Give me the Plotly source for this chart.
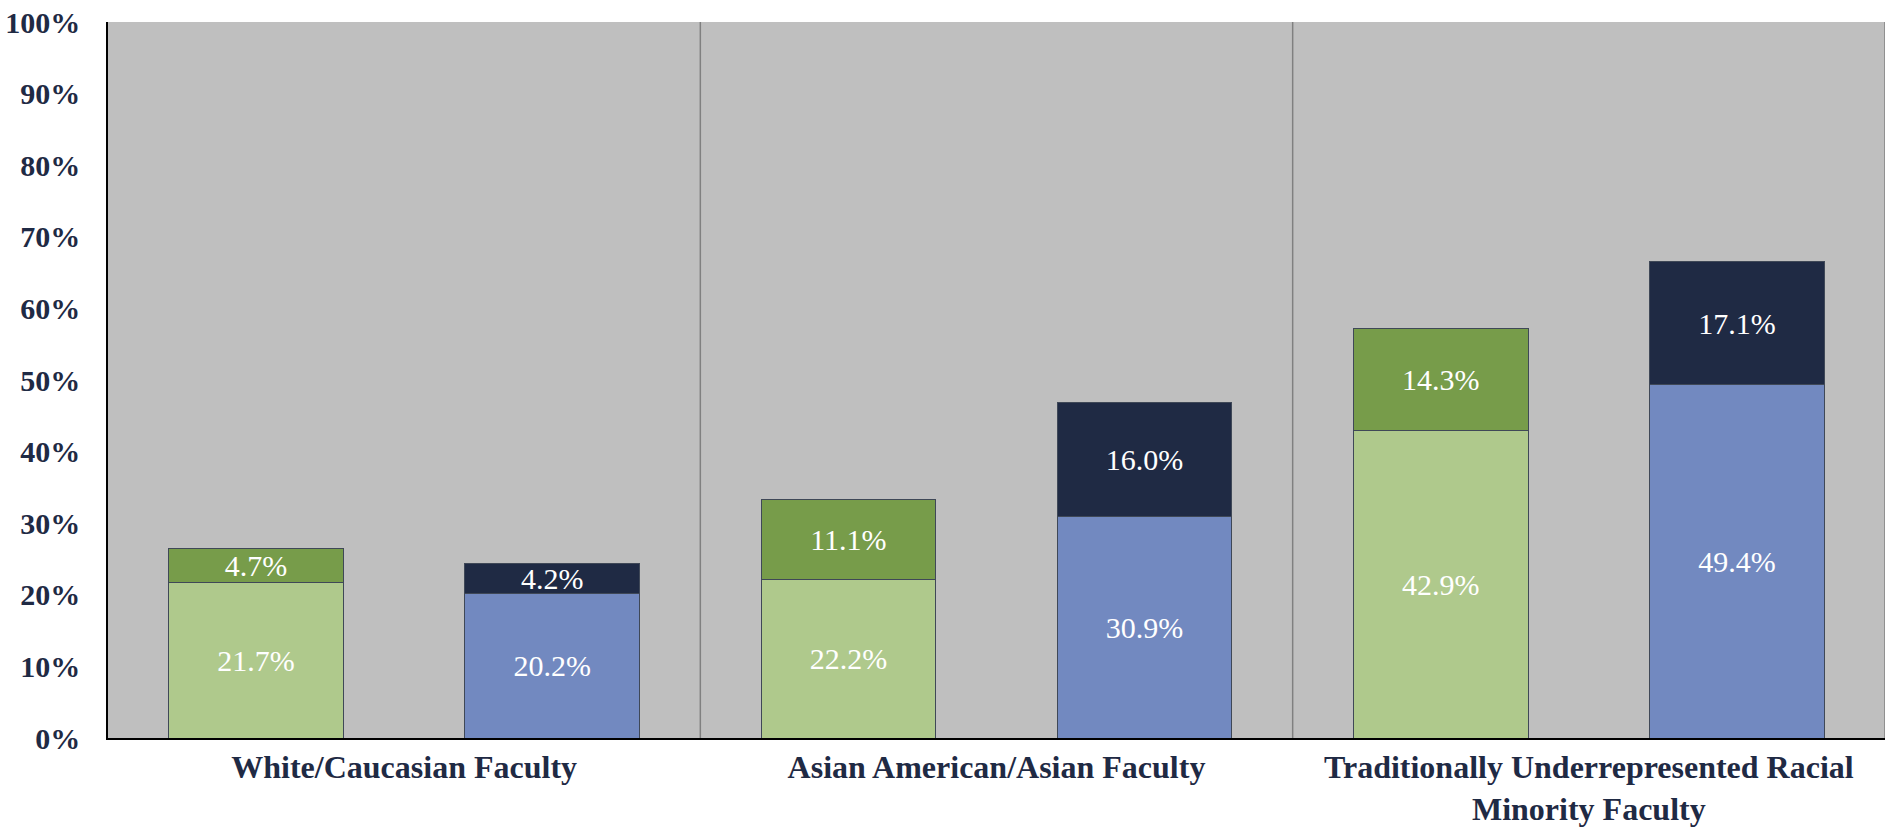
import plotly.graph_objects as go

groups = ["White/Caucasian Faculty", "Asian American/Asian Faculty",
          "Traditionally Underrepresented Racial<br>Minority Faculty"]
green_low = [21.7, 22.2, 42.9]
green_high = [4.7, 11.1, 14.3]
blue_low = [20.2, 30.9, 49.4]
blue_high = [4.2, 16.0, 17.1]

xg = [i - 0.25 for i in range(3)]
xb = [i + 0.25 for i in range(3)]

fnt = "Liberation Serif, Times New Roman, serif"
navy = "#1F2A44"
edge = dict(color="#3F4857", width=1)

fig = go.Figure()

def add(x, y, col):
    fig.add_trace(go.Bar(
        x=x, y=y, width=0.295, marker=dict(color=col, line=edge),
        text=[f"{v:.1f}%" for v in y], texttemplate="%{text}",
        textposition="inside",
        insidetextanchor="middle", constraintext="none", textangle=0,
        textfont=dict(family=fnt, size=30, color="white"),
        insidetextfont=dict(family=fnt, size=30, color="white"),
        showlegend=False, hoverinfo="skip"))

add(xg, green_low, "#AFC98C")
add(xg, green_high, "#779C4A")
add(xb, blue_low, "#7289C0")
add(xb, blue_high, "#1F2A44")

for xs in [0.5, 1.5, 2.5]:
    fig.add_shape(type="line", x0=xs, x1=xs, y0=0, y1=1, yref="paper",
                  line=dict(color="#808080", width=1.5), layer="above")

fig.update_layout(
    barmode="stack",
    width=1887, height=827,
    margin=dict(l=108, r=2, t=22, b=89),
    paper_bgcolor="white", plot_bgcolor="#BFBFBF",
    font=dict(family=fnt, color=navy),
)
fig.update_xaxes(range=[-0.5, 2.5], tickvals=[0, 1, 2], ticktext=groups,
                 showgrid=False, zeroline=False, showline=True,
                 linecolor="black", linewidth=1.5, ticks="", automargin=False,
                 tickfont=dict(family=fnt, size=32, color=navy, weight="bold"))
fig.update_yaxes(range=[0, 100], dtick=10, ticksuffix="%", showgrid=False,
                 zeroline=False, showline=True, linecolor="black",
                 linewidth=1.5, ticks="", ticklabelstandoff=20, automargin=False,
                 tickfont=dict(family=fnt, size=30, color=navy, weight="bold"))

# drop the default 8px body margin so the figure fills the window
fig.write_html("out.html", config={"displayModeBar": False},
               post_script="document.body.style.margin='0';"
                           "document.body.style.overflow='hidden';")
